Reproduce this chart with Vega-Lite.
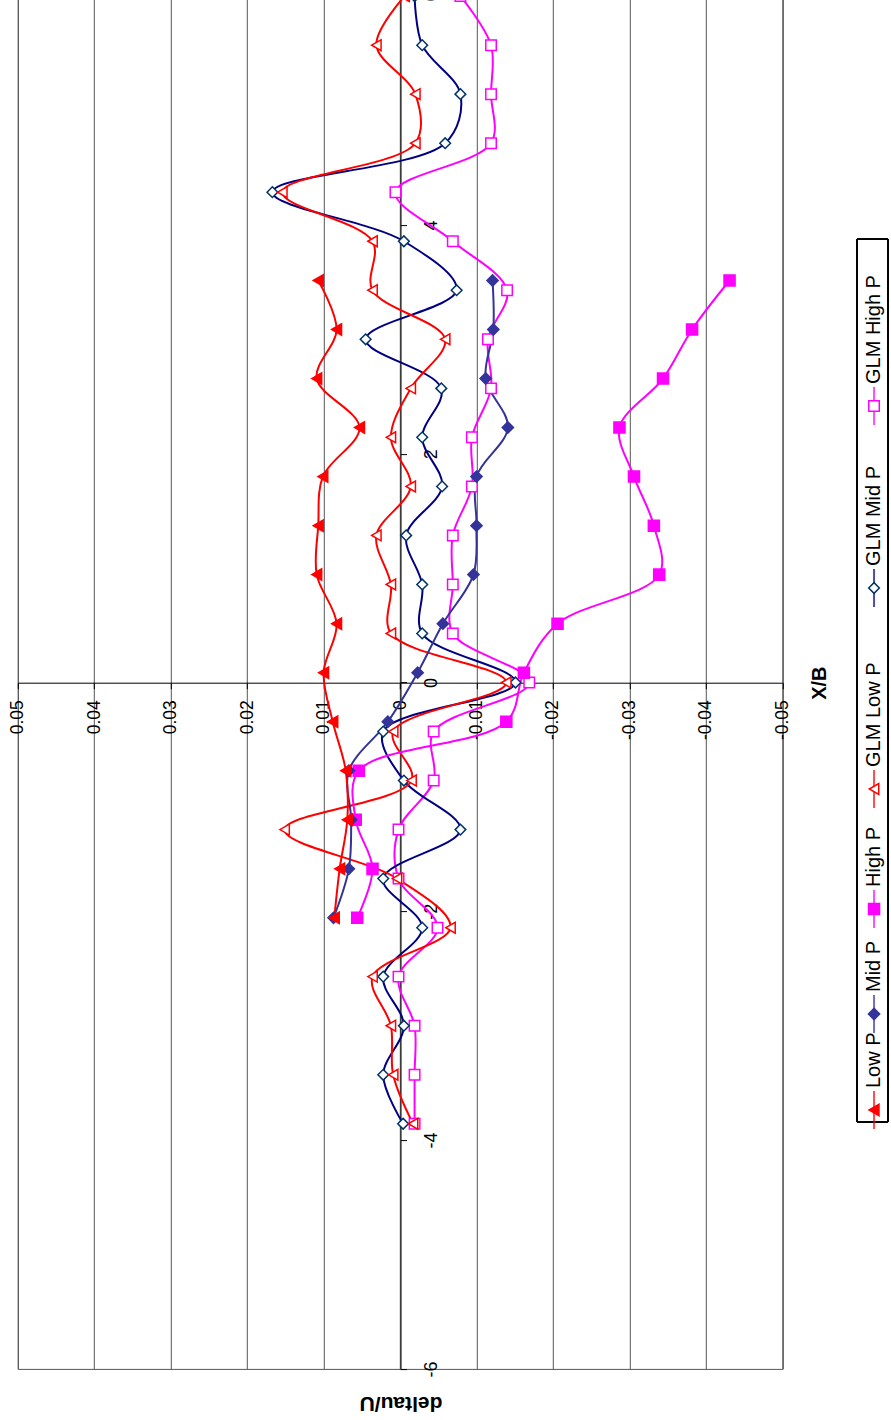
{
  "$schema": "https://vega.github.io/schema/vega-lite/v6.json",
  "width": 764.5,
  "height": 1372.8,
  "autosize": {"type": "none"},
  "padding": {"left": 17.8, "top": -3.9, "right": 108.7, "bottom": 51.1},
  "background": "white",
  "config": {
    "font": "Liberation Sans",
    "view": {"stroke": "#555555", "strokeWidth": 1},
    "axis": {"domainColor": "#000000", "tickColor": "#000000", "labelColor": "#000000", "titleColor": "#000000", "labelFont": "Liberation Sans", "titleFont": "Liberation Sans"}
  },
  "datasets": {
    "profiles": [
      {"series": "GLM High P", "xb": -3.857, "du": -0.0019},
      {"series": "GLM High P", "xb": -3.429, "du": -0.0019},
      {"series": "GLM High P", "xb": -3.0, "du": -0.0019},
      {"series": "GLM High P", "xb": -2.571, "du": 0.0002},
      {"series": "GLM High P", "xb": -2.143, "du": -0.0049},
      {"series": "GLM High P", "xb": -1.714, "du": 0.0002},
      {"series": "GLM High P", "xb": -1.286, "du": 0.0002},
      {"series": "GLM High P", "xb": -0.857, "du": -0.0044},
      {"series": "GLM High P", "xb": -0.429, "du": -0.0044},
      {"series": "GLM High P", "xb": 0.0, "du": -0.0169},
      {"series": "GLM High P", "xb": 0.429, "du": -0.0069},
      {"series": "GLM High P", "xb": 0.857, "du": -0.0069},
      {"series": "GLM High P", "xb": 1.286, "du": -0.0069},
      {"series": "GLM High P", "xb": 1.714, "du": -0.0094},
      {"series": "GLM High P", "xb": 2.143, "du": -0.0094},
      {"series": "GLM High P", "xb": 2.571, "du": -0.0119},
      {"series": "GLM High P", "xb": 3.0, "du": -0.0115},
      {"series": "GLM High P", "xb": 3.429, "du": -0.014},
      {"series": "GLM High P", "xb": 3.857, "du": -0.0069},
      {"series": "GLM High P", "xb": 4.286, "du": 0.0006},
      {"series": "GLM High P", "xb": 4.714, "du": -0.0119},
      {"series": "GLM High P", "xb": 5.143, "du": -0.0119},
      {"series": "GLM High P", "xb": 5.571, "du": -0.0119},
      {"series": "GLM High P", "xb": 6.0, "du": -0.0079},

      {"series": "GLM Mid P", "xb": -3.857, "du": -0.0004},
      {"series": "GLM Mid P", "xb": -3.429, "du": 0.0022},
      {"series": "GLM Mid P", "xb": -3.0, "du": -0.0005},
      {"series": "GLM Mid P", "xb": -2.571, "du": 0.0022},
      {"series": "GLM Mid P", "xb": -2.143, "du": -0.0029},
      {"series": "GLM Mid P", "xb": -1.714, "du": 0.0022},
      {"series": "GLM Mid P", "xb": -1.286, "du": -0.0079},
      {"series": "GLM Mid P", "xb": -0.857, "du": -0.0005},
      {"series": "GLM Mid P", "xb": -0.429, "du": 0.0022},
      {"series": "GLM Mid P", "xb": 0.0, "du": -0.0151},
      {"series": "GLM Mid P", "xb": 0.429, "du": -0.0029},
      {"series": "GLM Mid P", "xb": 0.857, "du": -0.0029},
      {"series": "GLM Mid P", "xb": 1.286, "du": -0.0008},
      {"series": "GLM Mid P", "xb": 1.714, "du": -0.0055},
      {"series": "GLM Mid P", "xb": 2.143, "du": -0.0029},
      {"series": "GLM Mid P", "xb": 2.571, "du": -0.0054},
      {"series": "GLM Mid P", "xb": 3.0, "du": 0.0045},
      {"series": "GLM Mid P", "xb": 3.429, "du": -0.0074},
      {"series": "GLM Mid P", "xb": 3.857, "du": -0.0005},
      {"series": "GLM Mid P", "xb": 4.286, "du": 0.0167},
      {"series": "GLM Mid P", "xb": 4.714, "du": -0.0059},
      {"series": "GLM Mid P", "xb": 5.143, "du": -0.0079},
      {"series": "GLM Mid P", "xb": 5.571, "du": -0.0029},
      {"series": "GLM Mid P", "xb": 6.0, "du": -0.0019},

      {"series": "GLM Low P", "xb": -3.857, "du": -0.0017},
      {"series": "GLM Low P", "xb": -3.429, "du": 0.0009},
      {"series": "GLM Low P", "xb": -3.0, "du": 0.0012},
      {"series": "GLM Low P", "xb": -2.571, "du": 0.0036},
      {"series": "GLM Low P", "xb": -2.143, "du": -0.0066},
      {"series": "GLM Low P", "xb": -1.714, "du": 0.0004},
      {"series": "GLM Low P", "xb": -1.286, "du": 0.0151},
      {"series": "GLM Low P", "xb": -0.857, "du": -0.0015},
      {"series": "GLM Low P", "xb": -0.429, "du": 0.0009},
      {"series": "GLM Low P", "xb": 0.0, "du": -0.0139},
      {"series": "GLM Low P", "xb": 0.429, "du": 0.0012},
      {"series": "GLM Low P", "xb": 0.857, "du": 0.0012},
      {"series": "GLM Low P", "xb": 1.286, "du": 0.0031},
      {"series": "GLM Low P", "xb": 1.714, "du": -0.0014},
      {"series": "GLM Low P", "xb": 2.143, "du": 0.0012},
      {"series": "GLM Low P", "xb": 2.571, "du": -0.0014},
      {"series": "GLM Low P", "xb": 3.0, "du": -0.0059},
      {"series": "GLM Low P", "xb": 3.429, "du": 0.0036},
      {"series": "GLM Low P", "xb": 3.857, "du": 0.0036},
      {"series": "GLM Low P", "xb": 4.286, "du": 0.0154},
      {"series": "GLM Low P", "xb": 4.714, "du": -0.002},
      {"series": "GLM Low P", "xb": 5.143, "du": -0.002},
      {"series": "GLM Low P", "xb": 5.571, "du": 0.0031},
      {"series": "GLM Low P", "xb": 6.0, "du": -0.0006},

      {"series": "High P", "xb": -2.057, "du": 0.0056},
      {"series": "High P", "xb": -1.629, "du": 0.0036},
      {"series": "High P", "xb": -1.2, "du": 0.0058},
      {"series": "High P", "xb": -0.771, "du": 0.0054},
      {"series": "High P", "xb": -0.343, "du": -0.0139},
      {"series": "High P", "xb": 0.086, "du": -0.0162},
      {"series": "High P", "xb": 0.514, "du": -0.0206},
      {"series": "High P", "xb": 0.943, "du": -0.0339},
      {"series": "High P", "xb": 1.371, "du": -0.0332},
      {"series": "High P", "xb": 1.8, "du": -0.0306},
      {"series": "High P", "xb": 2.229, "du": -0.0287},
      {"series": "High P", "xb": 2.657, "du": -0.0344},
      {"series": "High P", "xb": 3.086, "du": -0.0382},
      {"series": "High P", "xb": 3.514, "du": -0.0431},

      {"series": "Mid P", "xb": -2.057, "du": 0.0087},
      {"series": "Mid P", "xb": -1.629, "du": 0.0067},
      {"series": "Mid P", "xb": -1.2, "du": 0.0064},
      {"series": "Mid P", "xb": -0.771, "du": 0.0067},
      {"series": "Mid P", "xb": -0.343, "du": 0.0016},
      {"series": "Mid P", "xb": 0.086, "du": -0.0023},
      {"series": "Mid P", "xb": 0.514, "du": -0.0056},
      {"series": "Mid P", "xb": 0.943, "du": -0.0096},
      {"series": "Mid P", "xb": 1.371, "du": -0.01},
      {"series": "Mid P", "xb": 1.8, "du": -0.01},
      {"series": "Mid P", "xb": 2.229, "du": -0.0141},
      {"series": "Mid P", "xb": 2.657, "du": -0.0112},
      {"series": "Mid P", "xb": 3.086, "du": -0.0122},
      {"series": "Mid P", "xb": 3.514, "du": -0.0121},

      {"series": "Low P", "xb": -2.057, "du": 0.0086},
      {"series": "Low P", "xb": -1.629, "du": 0.0079},
      {"series": "Low P", "xb": -1.2, "du": 0.0069},
      {"series": "Low P", "xb": -0.771, "du": 0.0071},
      {"series": "Low P", "xb": -0.343, "du": 0.0088},
      {"series": "Low P", "xb": 0.086, "du": 0.01},
      {"series": "Low P", "xb": 0.514, "du": 0.0083},
      {"series": "Low P", "xb": 0.943, "du": 0.0109},
      {"series": "Low P", "xb": 1.371, "du": 0.0107},
      {"series": "Low P", "xb": 1.8, "du": 0.0101},
      {"series": "Low P", "xb": 2.229, "du": 0.0053},
      {"series": "Low P", "xb": 2.657, "du": 0.0109},
      {"series": "Low P", "xb": 3.086, "du": 0.0083},
      {"series": "Low P", "xb": 3.514, "du": 0.0107}
    ],
    "legendItems": [
      {"series": "Low P"},
      {"series": "Mid P"},
      {"series": "High P"},
      {"series": "GLM Low P"},
      {"series": "GLM Mid P"},
      {"series": "GLM High P"}
    ]
  },
  "layer": [
    {
      "data": {"name": "profiles"},
      "encoding": {
        "x": {
          "field": "du", "type": "quantitative", "title": "deltau/U",
          "scale": {"domain": [-0.05, 0.05], "reverse": true, "nice": false, "zero": false},
          "axis": {
            "orient": "bottom", "offset": -686.2,
            "values": [0.05, 0.04, 0.03, 0.02, 0.01, 0, -0.01, -0.02, -0.03, -0.04, -0.05],
            "grid": true, "gridColor": "#555555", "gridWidth": 1,
            "tickSize": 6, "labelAngle": 270, "labelAlign": "right", "labelBaseline": "middle",
            "labelPadding": 11, "labelFontSize": 17.5, "labelOverlap": false, "labelFlush": false,
            "labelExpr": "'' + datum.value",
            "titleAngle": 180, "titleX": 382.7, "titleY": 719.3, "titleAlign": "center", "titleBaseline": "middle",
            "titleFontSize": 21, "titleFontWeight": "bold"
          }
        },
        "y": {
          "field": "xb", "type": "quantitative", "title": "X/B",
          "scale": {"domain": [-6, 6], "nice": false, "zero": false},
          "axis": {
            "orient": "right", "offset": -381.8,
            "values": [-6, -4, -2, 0, 2, 4, 6],
            "grid": false, "tickSize": 6, "labelAngle": 270, "labelAlign": "center", "labelBaseline": "top",
            "labelPadding": 16, "labelFontSize": 18, "labelOverlap": false, "labelFlush": false,
            "labelExpr": "'' + datum.value",
            "titleAngle": 270, "titleX": 418.5, "titleY": 686.6, "titleAlign": "center", "titleBaseline": "middle",
            "titleFontSize": 20, "titleFontWeight": "bold"
          }
        },
        "color": {
          "field": "series", "type": "nominal", "legend": null,
          "scale": {"domain": ["Low P", "Mid P", "High P", "GLM Low P", "GLM Mid P", "GLM High P"], "range": ["#FF0000", "#333399", "#FF00FF", "#FF0000", "#000080", "#FF00FF"]}
        }
      },
      "layer": [
        {
          "mark": {"type": "line", "interpolate": "catmull-rom", "strokeWidth": 2},
          "encoding": {"order": {"field": "xb", "type": "quantitative"}}
        },
        {
          "mark": {"type": "point", "filled": true, "opacity": 1, "strokeWidth": 1.5},
          "encoding": {
            "shape": {"field": "series", "type": "nominal", "legend": null,
              "scale": {"domain": ["Low P", "Mid P", "High P", "GLM Low P", "GLM Mid P", "GLM High P"], "range": ["triangle-left", "diamond", "square", "triangle-left", "diamond", "square"]}},
            "fill": {"field": "series", "type": "nominal", "legend": null,
              "scale": {"domain": ["Low P", "Mid P", "High P", "GLM Low P", "GLM Mid P", "GLM High P"], "range": ["#FF0000", "#333399", "#FF00FF", "#FFFFFF", "#FFFFFF", "#FFFFFF"]}},
            "stroke": {"field": "series", "type": "nominal", "legend": null,
              "scale": {"domain": ["Low P", "Mid P", "High P", "GLM Low P", "GLM Mid P", "GLM High P"], "range": ["#FF0000", "#333399", "#FF00FF", "#FF0000", "#003366", "#FF00FF"]}},
            "size": {"field": "series", "type": "nominal", "legend": null,
              "scale": {"domain": ["Low P", "Mid P", "High P", "GLM Low P", "GLM Mid P", "GLM High P"], "range": [130, 110, 130, 130, 100, 130]}}
          }
        }
      ]
    },
    {
      "data": {"name": "legendItems"},
      "transform": [{"window": [{"op": "row_number", "as": "idx"}]}],
      "encoding": {
        "x": {"datum": -0.062, "type": "quantitative", "title": "deltau/U"},
        "y": {"field": "idx", "type": "quantitative", "axis": null,
          "scale": {"domain": [0, 1, 2, 3, 4, 5, 6, 7], "range": [1125.9, 1113.9, 1017.9, 912.9, 792.9, 591.9, 409.9, 242.9], "nice": false, "zero": false}}
      },
      "layer": [
        {
          "mark": {"type": "rect", "fill": null, "stroke": "#000000", "strokeWidth": 1},
          "encoding": {
            "x": {"datum": -0.05977, "type": "quantitative"},
            "x2": {"datum": -0.06383},
            "y": {"datum": 0, "type": "quantitative"},
            "y2": {"datum": 7}
          }
        },
        {
          "mark": {"type": "tick", "orient": "vertical", "size": 38, "thickness": 2},
          "encoding": {"color": {"field": "series", "type": "nominal", "legend": null}}
        },
        {
          "mark": {"type": "point", "filled": true, "opacity": 1, "strokeWidth": 1.5},
          "encoding": {
            "shape": {"field": "series", "type": "nominal", "legend": null},
            "fill": {"field": "series", "type": "nominal", "legend": null},
            "stroke": {"field": "series", "type": "nominal", "legend": null},
            "size": {"field": "series", "type": "nominal", "legend": null}
          }
        },
        {
          "mark": {"type": "text", "angle": 270, "align": "left", "baseline": "middle", "dx": 22, "fontSize": 20, "font": "Liberation Sans", "color": "#000000"},
          "encoding": {"text": {"field": "series", "type": "nominal"}}
        }
      ]
    }
  ],
  "resolve": {"scale": {"y": "independent"}}
}
